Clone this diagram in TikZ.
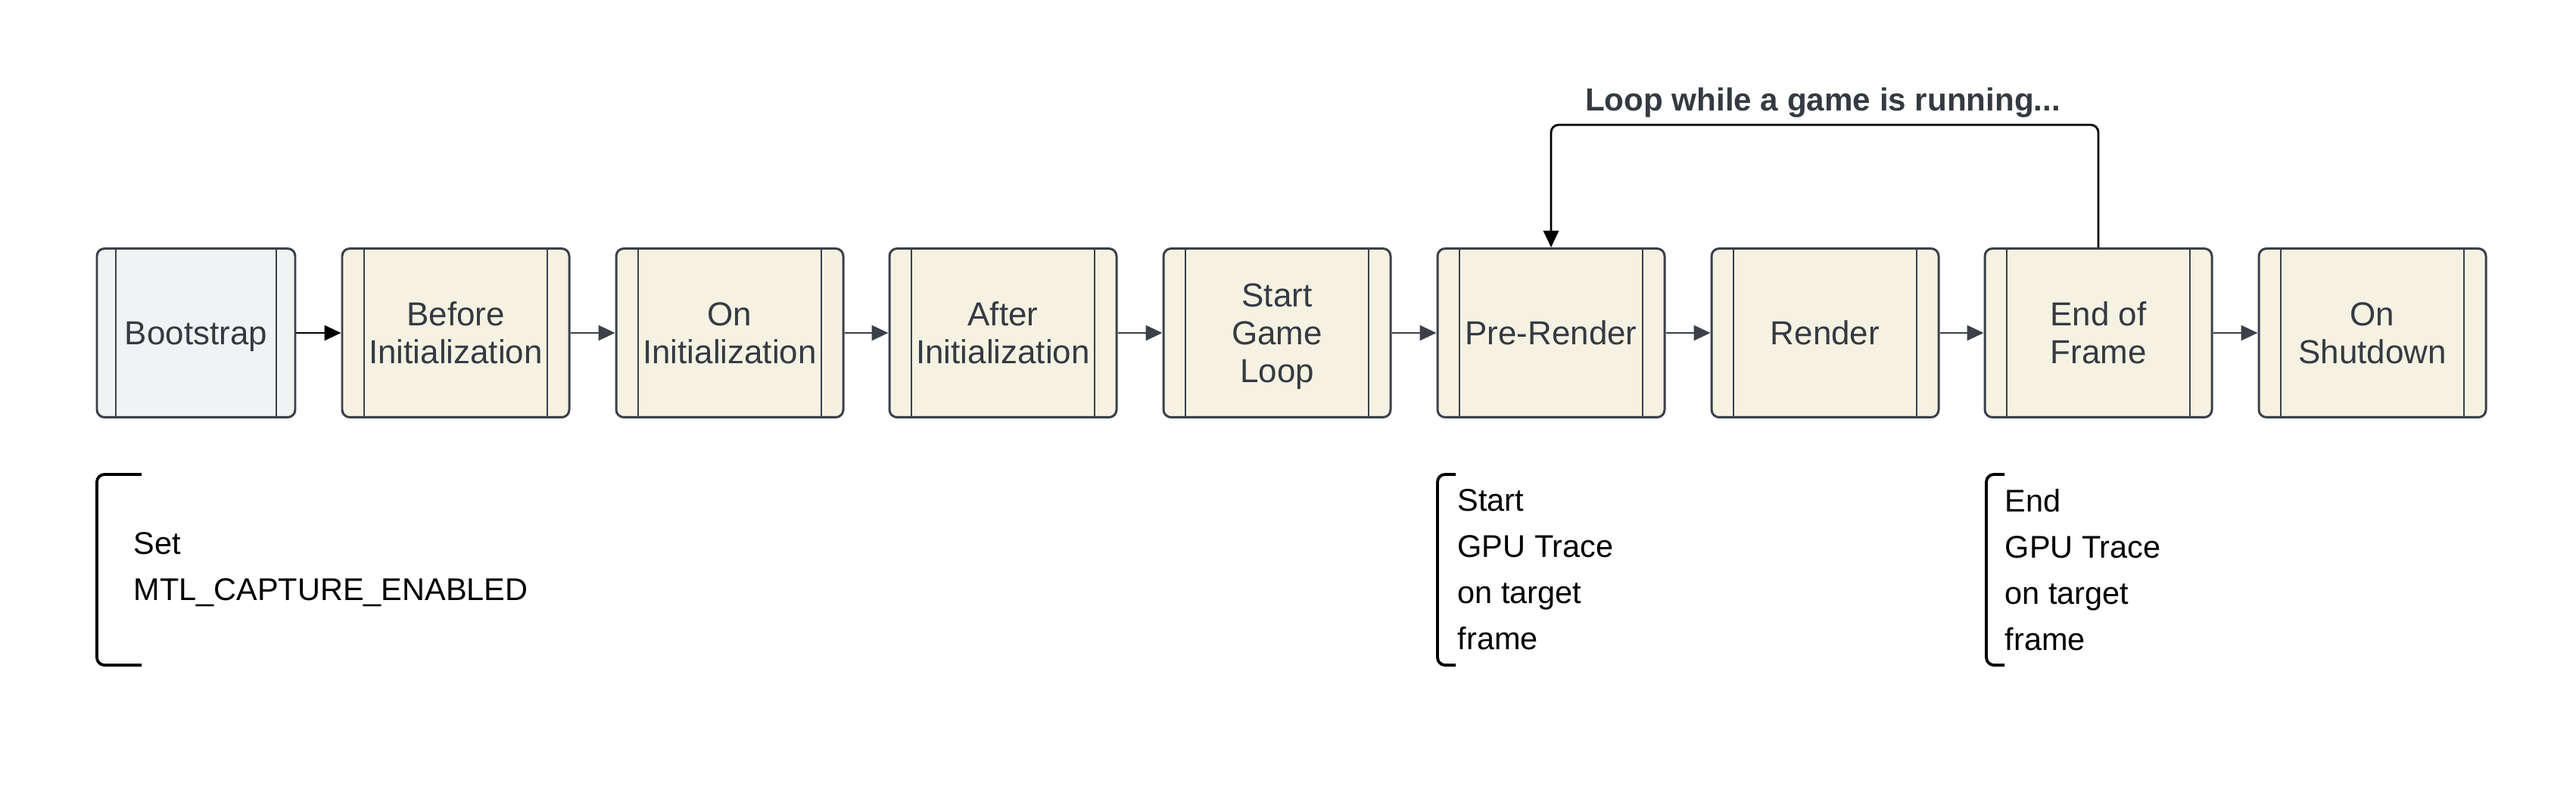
\documentclass[tikz,border=0pt]{standalone}
\usepackage{fontspec}
\setmainfont{Liberation Sans}
\usepackage{tikz}
\usepackage{xcolor}
\usetikzlibrary{calc}
\usetikzlibrary{arrows.meta}

\definecolor{stagefill}{HTML}{F5F2E3}
\definecolor{bootfill}{HTML}{F1F2F4}
\definecolor{stageedge}{HTML}{3B4049}
\definecolor{stagetext}{HTML}{353A42}

\begin{document}
\begin{tikzpicture}[
  stage/.style={draw=stageedge, line width=0.85pt, fill=stagefill, rounded corners=0.1cm,
    minimum width=3cm, minimum height=2.23cm, inner sep=0pt, align=center,
    text=stagetext, font=\fontsize{12.5}{14.2}\selectfont},
  flow/.style={draw=stageedge, line width=0.8pt, -{Triangle[length=0.22cm,width=0.2cm]}},
  note/.style={anchor=west, align=left, inner sep=0pt, font=\fontsize{11.8}{17.4}\selectfont},
  bracket/.style={line width=1.1pt, rounded corners=0.1cm}
]
\useasboundingbox (0,0) rectangle (34.03,-10.52);

% the stages
\node[stage, fill=bootfill, minimum width=2.62cm, text depth=0pt] (boot) at (2.59,-4.4) {Bootstrap};
\node[stage] (before) at (6.02,-4.4) {Before\\Initialization};
\node[stage] (oninit) at (9.64,-4.4) {On\\Initialization};
\node[stage] (after) at (13.25,-4.4) {After\\Initialization};
\node[stage, text depth=0pt] (start) at (16.87,-4.4) {Start\\Game\\Loop};
\node[stage] (prerender) at (20.49,-4.4) {Pre-Render};
\node[stage] (render) at (24.11,-4.4) {Render};
\node[stage] (endframe) at (27.72,-4.4) {End of\\Frame};
\node[stage] (shutdown) at (31.34,-4.4) {On\\Shutdown};

\foreach \n in {boot,before,oninit,after,start,prerender,render,endframe,shutdown}
{
	\draw[stageedge, line width=0.6pt] ($(\n.north west)!0.1!(\n.north east)$) -- ($(\n.south west)!0.1!(\n.south east)$);
	\draw[stageedge, line width=0.6pt] ($(\n.north west)!0.9!(\n.north east)$) -- ($(\n.south west)!0.9!(\n.south east)$);
}

\draw[flow, draw=black] (boot) -- (before);
\foreach \a/\b in {before/oninit,oninit/after,after/start,start/prerender,prerender/render,render/endframe,endframe/shutdown}
{
	\draw[flow] (\a) -- (\b);
}

% the game loop
\coordinate (looptop) at (0,-1.65);
\draw[flow, draw=black, rounded corners=0.1cm] (endframe.north) -- (endframe.north |- looptop) -- (prerender.north |- looptop) -- (prerender.north);
\node[text=stagetext, font=\bfseries\fontsize{12}{14}\selectfont] (looplabel) at (24.08,-1.36) {Loop while a game is running...};

% notes
\node[note] (setnote) at (1.76,-7.53) {Set\\MTL\_CAPTURE\_ENABLED};
\draw[bracket] (1.87,-6.27) -- (1.28,-6.27) -- (1.28,-8.79) -- (1.87,-8.79);

\node[note] (startnote) at (19.25,-7.53) {Start\\GPU Trace\\on target\\frame};
\draw[bracket] (19.23,-6.27) -- (18.99,-6.27) -- (18.99,-8.79) -- (19.23,-8.79);

\node[note] (endnote) at (26.48,-7.53) {End\\GPU Trace\\on target\\frame};
\draw[bracket] (26.48,-6.27) -- (26.24,-6.27) -- (26.24,-8.79) -- (26.48,-8.79);

\end{tikzpicture}
\end{document}
